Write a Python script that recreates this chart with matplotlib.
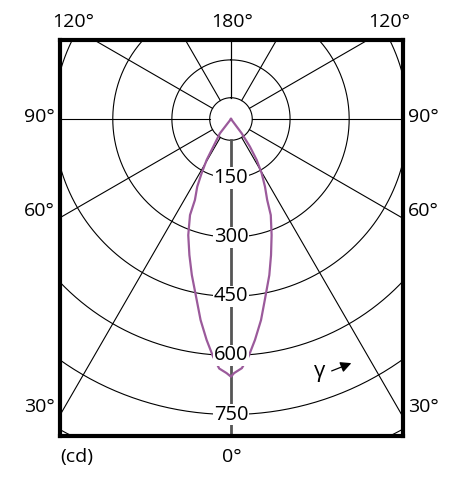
"""
Polar luminous intensity diagram (cd), redrawn with matplotlib
"""

import numpy as np
import matplotlib.pyplot as plt

plt.rcParams['font.family'] = ['Open Sans', 'DejaVu Sans']

# Intensity curve (cd), gamma in degrees from nadir
gamma_right = [0, 0.7, 2.5, 4.2, 6.2, 8.5, 10.6, 13.8, 16.4, 19.3, 22.5,
               24.1, 26.7, 29.5, 32.1, 34.4, 36.8, 38]
cd_right = [654, 645, 633, 605, 564, 516, 467, 408, 360, 312, 264,
            225, 192, 158, 123, 85, 45, 0]
gamma_left = [0, 1.0, 2.7, 4.3, 6.3, 8.6, 10.7, 14.1, 17.0, 20.2, 23.1,
              24.0, 26.5, 28.4, 30.7, 32.6, 37.6, 38]
cd_left = [654, 645, 634, 605, 564, 516, 468, 408, 361, 314, 265,
           225, 192, 157, 121, 83, 46, 0]

rings = [150, 300, 450, 600, 750]
spokes = [30, 60, 90, 120, 150, 180]

curve_color = '#9b5a9b'

fig = plt.figure(figsize=(4.6, 4.83), dpi=100)
ax = fig.add_axes([0.1304, 0.0963, 0.7467, 0.8209])
ax.set_xlim(-434, 437.8)
ax.set_ylim(-805.8, 200.5)
ax.set_xticks([])
ax.set_yticks([])
for s in ax.spines.values():
    s.set_linewidth(3)
    s.set_zorder(10)

inner = 54  # small blank circle around the lamp centre

# circles
t = np.linspace(0, 2 * np.pi, 400)
for r in [inner] + rings + [900, 1050]:
    ax.plot(r * np.sin(t), r * np.cos(t), color='black', lw=0.8, zorder=1)

# spokes, gamma measured from straight down
for g in spokes:
    a = np.radians(g)
    for sgn in (-1, 1):
        x = [sgn * inner * np.sin(a), sgn * 2000 * np.sin(a)]
        y = [-inner * np.cos(a), -2000 * np.cos(a)]
        ax.plot(x, y, color='black', lw=0.8, zorder=1)

# 0 deg axis in grey
ax.plot([0, 0], [-inner, -2000], color='#555555', lw=2, zorder=1)

# intensity curve
gl = np.radians(gamma_left)
gr = np.radians(gamma_right)
xl = -np.array(cd_left) * np.sin(gl)
yl = -np.array(cd_left) * np.cos(gl)
xr = np.array(cd_right) * np.sin(gr)
yr = -np.array(cd_right) * np.cos(gr)
ax.plot(np.concatenate([xl[::-1], xr]), np.concatenate([yl[::-1], yr]),
        color=curve_color, lw=1.6, zorder=2, solid_joinstyle='round')

# ring labels on the 0 deg axis
for r in rings:
    ax.text(0, -r, str(r), ha='center', va='center', fontsize=14.5, zorder=5,
            bbox=dict(facecolor='white', edgecolor='none', pad=0.5))

# gamma arrow
ax.annotate('', xy=(312, -617), xytext=(249, -642),
            arrowprops=dict(arrowstyle='-|>', color='black', lw=0.9,
                            mutation_scale=16), zorder=5)
ax.text(226, -640, 'γ', ha='center', va='center', fontsize=16, zorder=5)

# angle labels round the frame
fs = 14
tr = ax.transAxes
ax.text(0.038, 1.045, '120°', transform=tr, ha='center', va='center', fontsize=fs)
ax.text(0.501, 1.045, '180°', transform=tr, ha='center', va='center', fontsize=fs)
ax.text(0.959, 1.045, '120°', transform=tr, ha='center', va='center', fontsize=fs)
for txt, y in [('90°', 0.805), ('60°', 0.568), ('30°', 0.074)]:
    ax.text(-0.06, y, txt, transform=tr, ha='center', va='center', fontsize=fs)
    ax.text(1.057, y, txt, transform=tr, ha='center', va='center', fontsize=fs)
ax.text(0.501, -0.052, '0°', transform=tr, ha='center', va='center', fontsize=fs)
ax.text(0.0, -0.052, '(cd)', transform=tr, ha='left', va='center', fontsize=fs)

plt.savefig('out.png', dpi=100)
